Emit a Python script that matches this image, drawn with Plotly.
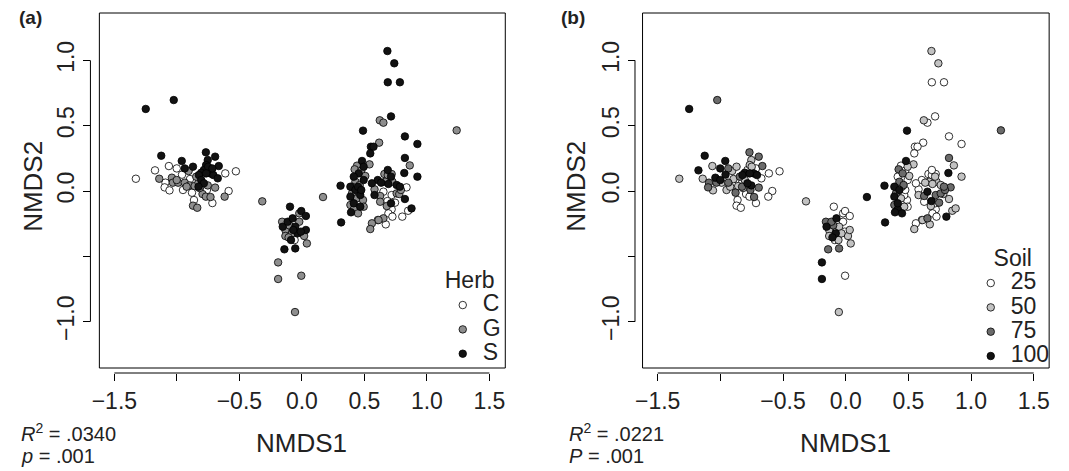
import plotly.graph_objects as go

# NMDS site scores, grouped by herbivore treatment.
# soil = soil inoculum level (%) of the same sample, as coloured in panel (b)
c_nmds1 = [-1.328, -1.175, -1.064, -1.001, -1.091, -1.098, -1.059, -0.959, -0.895, -0.951,
           -0.879, -0.863, -0.760, -0.716, -0.613, -0.528, -0.586, -0.058, 0.837, 0.652,
           0.718, 0.684, 0.745, 0.718, 0.692, 0.607, 0.671, 0.724, 0.803, 0.850]
c_nmds2 = [0.094, 0.158, 0.191, 0.173, 0.064, 0.028, 0.005, 0.125, 0.092, 0.008,
           -0.013, -0.069, 0.008, -0.092, 0.135, 0.151, 0.000, -0.375, 0.028, -0.005,
           -0.031, -0.077, -0.089, -0.140, -0.171, -0.222, -0.255, -0.196, -0.196, -0.151]
c_soil = [50, 100, 50, 100, 75, 75, 50, 100, 50, 50,
          75, 25, 75, 25, 25, 25, 25, 50, 75, 100,
          75, 100, 75, 25, 25, 25, 50, 25, 100, 50]

g_nmds1 = [-1.141, -1.040, -1.032, -0.990, -0.937, -0.906, -0.898, -0.922, -0.858, -0.827,
           -0.795, -0.768, -0.753, -0.731, -0.694, -0.618, -0.871, -0.837, -0.845, -0.819,
           -1.001, -0.317, 0.169, 1.238, -0.190, -0.190, -0.005, -0.055,
           0.623, 0.652, 0.618, 0.541, 0.863,
           -0.021, -0.158, -0.132, -0.100, -0.021, 0.018, -0.132, 0.040, -0.079, -0.106,
           0.441, 0.422, 0.475, 0.507, 0.428, 0.462, 0.401, 0.441, 0.489, 0.388,
           0.415, 0.449, 0.494, 0.401,
           0.660, 0.687, 0.718, 0.665, 0.724, 0.581, 0.626, 0.758, 0.779, 0.626,
           0.679, 0.652, 0.613, 0.560, 0.547, 0.792]
g_nmds2 = [0.094, 0.102, 0.064, 0.064, 0.064, 0.153, 0.043, 0.033, 0.038, 0.064,
           -0.023, -0.043, 0.043, -0.046, 0.026, -0.043, -0.112, -0.128, 0.110, 0.023,
           0.084, -0.079, -0.046, 0.464, -0.546, -0.673, -0.648, -0.926,
           0.541, 0.523, 0.370, 0.204, 0.196,
           -0.171, -0.235, -0.298, -0.263, -0.235, -0.344, -0.344, -0.401, -0.324, -0.355,
           0.194, 0.166, 0.156, 0.115, 0.071, 0.046, -0.018, -0.056, -0.069, -0.107,
           -0.140, -0.171, -0.120, 0.033,
           0.130, 0.122, 0.130, 0.071, 0.071, 0.013, -0.038, -0.018, -0.023, -0.082,
           -0.115, -0.209, -0.222, -0.247, -0.291, 0.008]
g_soil = [50, 100, 75, 50, 75, 50, 25, 50, 50, 25,
          25, 25, 100, 75, 75, 25, 25, 25, 75, 50,
          100, 50, 100, 75, 100, 100, 25, 50,
          50, 25, 25, 50, 50,
          25, 75, 50, 75, 25, 50, 50, 50, 100, 100,
          25, 75, 25, 50, 75, 75, 75, 50, 25, 75,
          100, 100, 25, 25,
          25, 25, 25, 50, 50, 25, 75, 75, 50, 25,
          50, 75, 50, 25, 50, 75]

s_nmds1 = [-1.249, -1.025, -1.125, 0.309, 0.314, 0.684, 0.739, 0.687, 0.784, 0.713,
           0.489, 0.824, 0.924, 0.552, 0.573, 0.547, 0.824, 0.819, 0.924, -0.140, -0.053,
           -0.961, -0.937, -0.871, -0.768, -0.694, -0.753, -0.766, -0.784, -0.805, -0.824,
           -0.805, -0.784, -0.734, -0.708, -0.665, -0.673, -0.827, -0.750, -0.716, -0.766,
           -0.095, -0.005, 0.032, -0.153, -0.114, -0.074, -0.053, -0.034, -0.087, 0.032,
           -0.008, -0.069,
           0.481, 0.494, 0.454, 0.415, 0.494, 0.388, 0.428, 0.467, 0.388, 0.415,
           0.467, 0.393, 0.449, 0.475,
           0.687, 0.713, 0.607, 0.634, 0.692, 0.758, 0.784, 0.581, 0.824, 0.713,
           0.877, 0.560]
s_nmds2 = [0.628, 0.696, 0.270, 0.041, -0.240, 1.071, 0.977, 0.832, 0.832, 0.571,
           0.462, 0.418, 0.360, 0.339, 0.339, 0.288, 0.253, 0.138, 0.110, -0.446, -0.439,
           0.230, 0.173, 0.186, 0.296, 0.263, 0.237, 0.199, 0.161, 0.140, 0.122,
           0.084, 0.059, 0.135, 0.122, 0.191, 0.097, 0.033, 0.186, 0.173, 0.135,
           -0.120, -0.153, -0.191, -0.273, -0.235, -0.209, -0.273, -0.324, -0.375, -0.298,
           -0.311, -0.298,
           0.230, 0.186, 0.135, 0.110, 0.084, 0.033, 0.008, -0.031, -0.043, -0.094,
           -0.120, -0.163, 0.033, 0.008,
           0.161, 0.110, 0.084, 0.064, 0.054, 0.046, 0.033, -0.031, -0.061, -0.094,
           -0.133, 0.059]
s_soil = [100, 75, 100, 100, 100, 50, 50, 25, 25, 25,
          100, 25, 25, 25, 25, 25, 75, 100, 50, 75, 75,
          100, 75, 50, 75, 75, 50, 50, 25, 100, 100,
          50, 100, 100, 100, 75, 25, 75, 50, 25, 100,
          25, 25, 25, 100, 75, 100, 50, 50, 25, 50,
          25, 25,
          100, 50, 75, 25, 25, 100, 100, 25, 100, 100,
          50, 100, 50, 25,
          25, 50, 25, 50, 50, 50, 75, 50, 50, 25,
          50, 25]

herb_levels = ["C", "G", "S"]
herb_colors = ["#ffffff", "#8e8e8e", "#121212"]
soil_levels = [25, 50, 75, 100]
soil_colors = ["#ffffff", "#c2c2c2", "#6b6b6b", "#121212"]

herb_x = [c_nmds1, g_nmds1, s_nmds1]
herb_y = [c_nmds2, g_nmds2, s_nmds2]
all_x = c_nmds1 + g_nmds1 + s_nmds1
all_y = c_nmds2 + g_nmds2 + s_nmds2
all_soil = c_soil + g_soil + s_soil

FONT = "Liberation Sans, Arial, Helvetica, sans-serif"
# the page body has an 8px margin, so the figure starts 8px in from the window corner
OFF = 8
W, H = 1069 - OFF, 471 - OFF


def fx(px):
    return (px - OFF) / W


def fy(py):
    return 1 - (py - OFF) / H


def lab(txt):
    return '<span style="font-size:23px">%s</span>' % txt


fig = go.Figure()

for i, h in enumerate(herb_levels):
    fig.add_trace(go.Scatter(x=herb_x[i], y=herb_y[i], mode="markers", name=lab(h),
                             xaxis="x", yaxis="y", legend="legend",
                             marker=dict(size=7.5, color=herb_colors[i],
                                         line=dict(color="black", width=0.8))))

for i, s in enumerate(soil_levels):
    xs = [x for x, k in zip(all_x, all_soil) if k == s]
    ys = [y for y, k in zip(all_y, all_soil) if k == s]
    fig.add_trace(go.Scatter(x=xs, y=ys, mode="markers", name=lab(s),
                             xaxis="x2", yaxis="y2", legend="legend2",
                             marker=dict(size=7.5, color=soil_colors[i],
                                         line=dict(color="black", width=0.8))))

ydom = [fy(368), fy(13)]
xline_pos = fy(373)
tickfont = dict(size=23, family=FONT, color="#222")
titlefont = dict(size=26, family=FONT, color="#222")

xt = dict(tickmode="array", tickvals=[-1.5, -0.5, 0.0, 0.5, 1.0, 1.5],
          ticktext=["\u22121.5", "\u22120.5", "0.0", "0.5", "1.0", "1.5"],
          ticks="outside", ticklen=7, tickwidth=1, tickcolor="black",
          minor=dict(tickmode="array", tickvals=[-1.0], ticks="outside", ticklen=7,
                     tickwidth=1, tickcolor="black", showgrid=False),
          showline=False, showgrid=False, zeroline=False, anchor="free",
          position=xline_pos, tickfont=tickfont)
yt = dict(tickmode="array", tickvals=[-1.0, 0.0, 0.5, 1.0],
          ticktext=["\u22121.0", "0.0", "0.5", "1.0"], tickangle=-90,
          ticks="outside", ticklen=7, tickwidth=1, tickcolor="black",
          minor=dict(tickmode="array", tickvals=[-0.5], ticks="outside", ticklen=7,
                     tickwidth=1, tickcolor="black", showgrid=False),
          showline=False, showgrid=False, zeroline=False, anchor="free",
          tickfont=tickfont)

fig.update_layout(
    width=W, height=H, margin=dict(l=0, r=0, t=0, b=0),
    paper_bgcolor="white", plot_bgcolor="white",
    font=dict(family=FONT, color="#222"),
    xaxis=dict(domain=[fx(92), fx(501)], range=[-1.62, 1.627], **xt),
    yaxis=dict(domain=ydom, range=[-1.354, 1.362], position=fx(83), **yt),
    xaxis2=dict(domain=[fx(639.3), fx(1049)], range=[-1.621, 1.623], **xt),
    yaxis2=dict(domain=ydom, range=[-1.354, 1.362], position=fx(631.7), **yt),
    legend=dict(title=dict(text="Herb", font=dict(size=23, family=FONT)),
                x=fx(438), y=fy(258), xanchor="left", yanchor="top",
                font=dict(size=16.4, family=FONT), bgcolor="rgba(0,0,0,0)"),
    legend2=dict(title=dict(text="Soil", font=dict(size=23, family=FONT), side="top center"),
                 x=fx(970), y=fy(236), xanchor="left", yanchor="top",
                 font=dict(size=16.4, family=FONT), bgcolor="rgba(0,0,0,0)"),
    showlegend=True,
)

# plot frames and R-style axis lines spanning first to last tick
for xa, ya, ypx in [("x", "y", 83), ("x2", "y2", 631.7)]:
    fig.add_shape(type="rect", xref=xa + " domain", yref=ya + " domain",
                  x0=0, x1=1, y0=0, y1=1, line=dict(color="black", width=1))
    fig.add_shape(type="line", xref=xa, yref="paper", x0=-1.5, x1=1.5,
                  y0=xline_pos, y1=xline_pos, line=dict(color="black", width=1))
    fig.add_shape(type="line", xref="paper", yref=ya, x0=fx(ypx), x1=fx(ypx),
                  y0=-1.0, y1=1.0, line=dict(color="black", width=1))

# axis titles
for cx in [296, 844]:
    fig.add_annotation(text="NMDS1", x=fx(cx), y=fy(443), xref="paper", yref="paper",
                       xanchor="center", yanchor="middle", showarrow=False, font=titlefont)
for cx in [25, 572]:
    fig.add_annotation(text="NMDS2", x=fx(cx), y=fy(186), xref="paper", yref="paper",
                       xanchor="center", yanchor="middle", textangle=-90,
                       showarrow=False, font=titlefont)

notes = [
    ("<b>(a)</b>", 9, 17, 19), ("<b>(b)</b>", 555, 17, 19),
    ("<i>R</i><sup>2</sup> = .0340", 11, 432, 20), ("<i>p</i> = .001", 11, 456, 20),
    ("<i>R</i><sup>2</sup> = .0221", 563, 432, 20), ("<i>P</i> = .001", 563, 456, 20),
]
for txt, px, py, fs in notes:
    fig.add_annotation(text=txt, x=fx(px), y=fy(py), xref="paper", yref="paper",
                       xanchor="left", yanchor="middle", showarrow=False,
                       font=dict(size=fs, family=FONT, color="#222"))

fig.write_html("out.html")
